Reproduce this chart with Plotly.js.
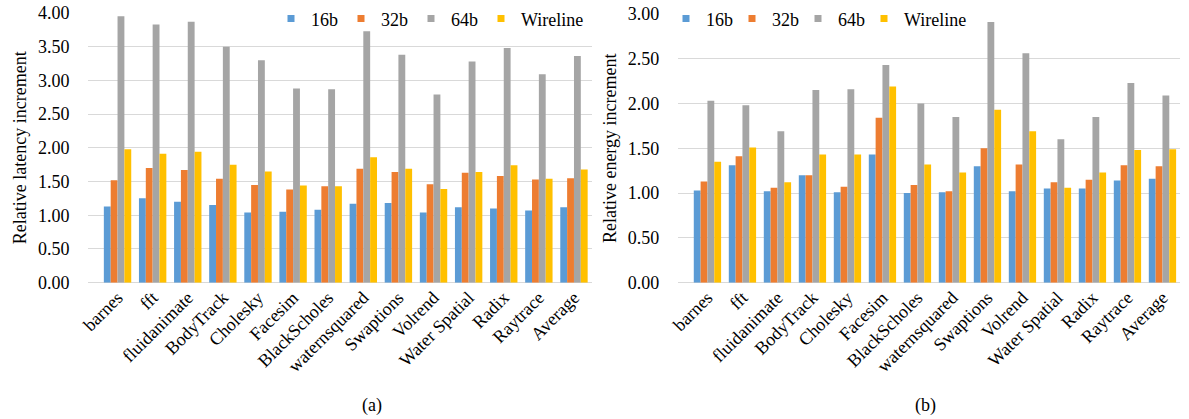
<!DOCTYPE html>
<html>
<head>
<meta charset="utf-8">
<script src="https://cdn.plot.ly/plotly-3.0.1.min.js"></script>
<style>html,body{margin:0;padding:0;background:#fff;}#chart{width:1189px;height:419px;}</style>
</head>
<body>
<div id="chart"></div>
<script>
var categories = ["barnes","fft","fluidanimate","BodyTrack","Cholesky","Facesim","BlackScholes","waternsquared","Swaptions","Volrend","Water Spatial","Radix","Raytrace","Average"];
var seriesNames = ["16b","32b","64b","Wireline"];
var seriesColors = ["#5B9BD5","#ED7D31","#A5A5A5","#FFC000"];

// (a) Relative latency increment
var latency16 = [1.13,1.25,1.20,1.15,1.04,1.05,1.08,1.17,1.18,1.04,1.12,1.10,1.07,1.12];
var latency32 = [1.52,1.70,1.67,1.54,1.45,1.38,1.43,1.69,1.64,1.46,1.63,1.58,1.53,1.55];
var latency64 = [3.95,3.83,3.87,3.50,3.30,2.88,2.87,3.73,3.38,2.79,3.28,3.48,3.09,3.36];
var latencyWire = [1.98,1.91,1.94,1.75,1.65,1.44,1.43,1.86,1.69,1.39,1.64,1.74,1.54,1.68];

// (b) Relative energy increment
var energy16 = [1.03,1.31,1.02,1.20,1.01,1.43,1.00,1.01,1.30,1.02,1.05,1.05,1.14,1.16];
var energy32 = [1.13,1.41,1.06,1.20,1.07,1.84,1.09,1.02,1.50,1.32,1.12,1.15,1.31,1.30];
var energy64 = [2.03,1.98,1.69,2.15,2.16,2.43,2.00,1.85,2.91,2.56,1.60,1.85,2.23,2.09];
var energyWire = [1.35,1.51,1.12,1.43,1.43,2.19,1.32,1.23,1.93,1.69,1.06,1.23,1.48,1.49];

var latencySeries = [latency16, latency32, latency64, latencyWire];
var energySeries = [energy16, energy32, energy64, energyWire];

var FONT = "Liberation Serif";
var traces = [];
function addChart(series, xa, ya, legendId, entryWidths) {
  series.forEach(function(vals, i) {
    traces.push({
      type: "bar", x: categories, y: vals, name: seriesNames[i],
      xaxis: xa, yaxis: ya, showlegend: false,
      marker: {color: seriesColors[i], line: {width: 0}},
      hoverinfo: "x+y+name"
    });
  });
  series.forEach(function(vals, i) {
    traces.push({
      type: "scatter", mode: "markers", x: [categories[0]], y: [null], name: seriesNames[i],
      xaxis: xa, yaxis: ya, legend: legendId, showlegend: true, legendwidth: entryWidths[i],
      marker: {color: seriesColors[i], symbol: "square", size: 7}
    });
  });
}
addChart(latencySeries, "x", "y", "legend", [25, 25, 25, 80]);
addChart(energySeries, "x2", "y2", "legend2", [21, 21, 21, 80]);

var xCommon = {
  type: "category", tickangle: -45, showgrid: false, zeroline: false, showline: false,
  ticks: "", tickfont: {family: FONT, size: 18, color: "#000"}, automargin: false
};
var yCommon = {
  showgrid: true, gridcolor: "#D9D9D9", gridwidth: 1, zeroline: true, zerolinecolor: "#D9D9D9",
  showline: false, ticks: "outside", ticklen: 14, tickcolor: "rgba(0,0,0,0)",
  tickformat: ".2f", tickfont: {family: FONT, size: 18, color: "#000"}, automargin: false
};

var layout = {
  width: 1189, height: 419,
  margin: {l: 0, r: 0, t: 0, b: 0},
  paper_bgcolor: "#fff", plot_bgcolor: "#fff",
  font: {family: FONT, size: 18, color: "#000"},
  barmode: "group", bargap: 0.22, bargroupgap: 0,
  xaxis: Object.assign({}, xCommon, {domain: [0.0740, 0.4975], anchor: "y"}),
  xaxis2: Object.assign({}, xCommon, {domain: [0.5702, 0.9924], anchor: "y2"}),
  yaxis: Object.assign({}, yCommon, {domain: [0.3270, 0.9737], range: [0, 4], dtick: 0.5, anchor: "x",
    title: {text: "Relative latency increment", font: {family: FONT, size: 18}, standoff: 6}}),
  yaxis2: Object.assign({}, yCommon, {domain: [0.3270, 0.9714], range: [0, 3], dtick: 0.5, anchor: "x2",
    title: {text: "Relative energy increment", font: {family: FONT, size: 18}, standoff: 6}}),
  legend: {orientation: "h", x: 271/1189, xanchor: "left", y: 1 - 17/419, yanchor: "middle",
    bgcolor: "rgba(255,255,255,0)", borderwidth: 0, entrywidthmode: "pixels",
    font: {family: FONT, size: 18, color: "#000"}, itemclick: false},
  legend2: {orientation: "h", x: 666/1189, xanchor: "left", y: 1 - 17/419, yanchor: "middle",
    bgcolor: "rgba(255,255,255,0)", borderwidth: 0, entrywidthmode: "pixels",
    font: {family: FONT, size: 18, color: "#000"}, itemclick: false},
  annotations: [
    {text: "(a)", x: 372/1189, y: 1 - 405/419, xref: "paper", yref: "paper", showarrow: false,
     xanchor: "center", yanchor: "middle", font: {family: FONT, size: 18, color: "#000"}},
    {text: "(b)", x: 925/1189, y: 1 - 405/419, xref: "paper", yref: "paper", showarrow: false,
     xanchor: "center", yanchor: "middle", font: {family: FONT, size: 18, color: "#000"}}
  ]
};

Plotly.newPlot("chart", traces, layout, {displayModeBar: false, staticPlot: true});
</script>
</body>
</html>
